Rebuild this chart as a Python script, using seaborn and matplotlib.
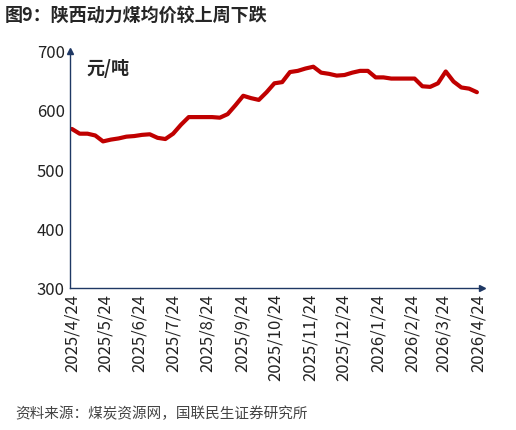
import matplotlib
matplotlib.use("Agg")
import matplotlib.pyplot as plt
import pandas as pd
import seaborn as sns

dates = pd.date_range("2025-04-24", periods=53, freq="7D")
prices = [568, 560, 560, 557, 547, 550, 552, 555, 556, 558, 559,
          553, 551, 560, 575, 588, 588, 588, 588, 587, 593,
          608, 624, 620, 617, 630, 645, 647, 664, 666, 670, 673,
          663, 661, 658, 659, 663, 666, 666, 655, 655, 653, 653,
          653, 653, 640, 639, 645, 665, 648, 638, 636, 630]
tick_dates = pd.to_datetime([f"{y}-{m}-24" for y, m in
                             [(2025, m) for m in range(4, 13)] + [(2026, m) for m in range(1, 5)]])
tick_labels = [f"{d.year}/{d.month}/24" for d in tick_dates]

sns.set_style("white")
plt.rcParams['font.family'] = ['Noto Sans CJK SC', 'DejaVu Sans']

fig = plt.figure(figsize=(5.16, 4.31), dpi=100)
ax = fig.add_axes([0.135, 0.33, 0.8, 0.55])
df = pd.DataFrame({"date": dates, "price": prices})
sns.lineplot(data=df, x="date", y="price", ax=ax, color="#C00000", linewidth=3)

ax.set_ylim(300, 700)
ax.set_yticks([300, 400, 500, 600, 700])
ax.set_xlim(tick_dates[0] - pd.Timedelta(days=2), tick_dates[-1] + pd.Timedelta(days=4))
ax.set_xticks(tick_dates)
ax.set_xticklabels(tick_labels, rotation=90)
ax.tick_params(axis="both", labelsize=12, length=0, colors="#222222")
ax.set_xlabel("")
ax.set_ylabel("")
for s in ["top", "right"]:
    ax.spines[s].set_visible(False)
for s in ["left", "bottom"]:
    ax.spines[s].set_color("#1F3864")
    ax.spines[s].set_linewidth(1)
ax.plot(0, 1, "^", color="#1F3864", markersize=5, transform=ax.transAxes, clip_on=False)
ax.plot(1, 0, ">", color="#1F3864", markersize=5, transform=ax.transAxes, clip_on=False)
ax.text(0.04, 0.97, "元/吨", transform=ax.transAxes, fontsize=13, fontweight="bold", va="top")

fig.text(0.01, 0.965, "图9：陕西动力煤均价较上周下跌", fontsize=13, fontweight="bold", va="center")
fig.text(0.03, 0.03, "资料来源：煤炭资源网，国联民生证券研究所", fontsize=10.5, color="#444444")
fig.savefig("out.png", dpi=100)
